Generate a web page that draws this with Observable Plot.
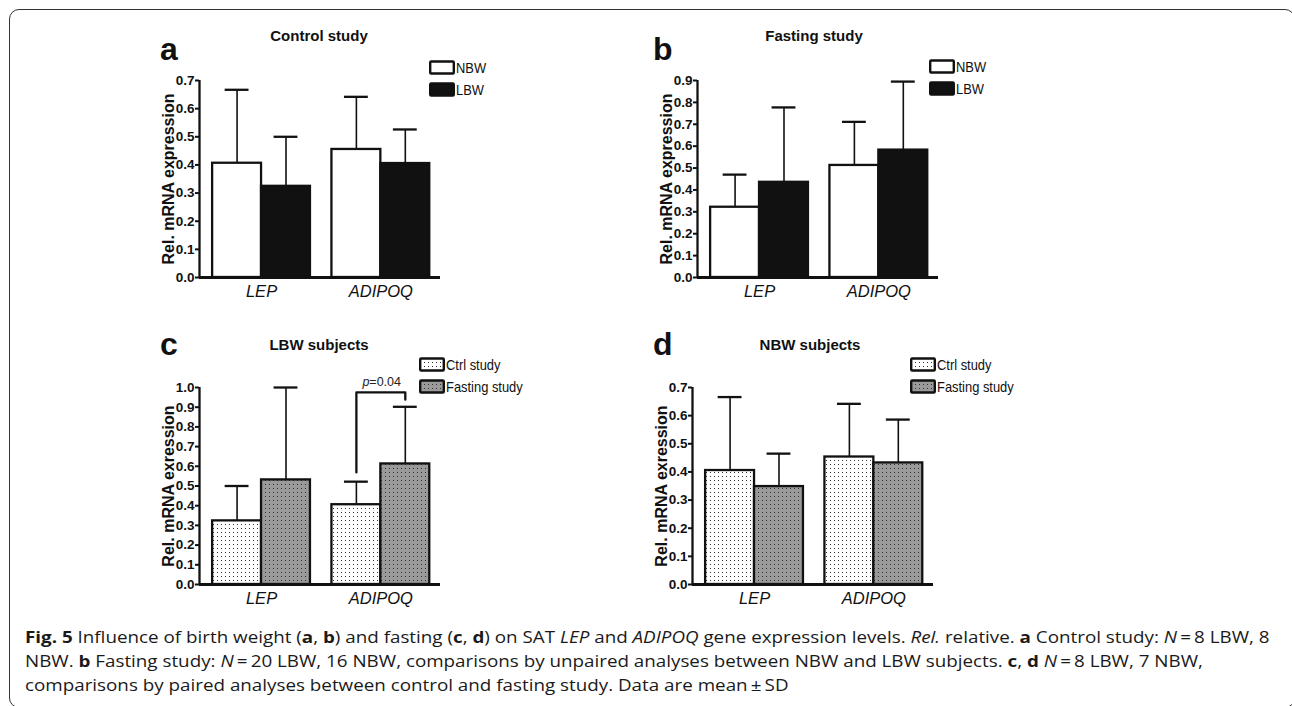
<!DOCTYPE html>
<html><head><meta charset="utf-8">
<script src="https://cdn.jsdelivr.net/npm/d3@7"></script>
<script src="https://cdn.jsdelivr.net/npm/@observablehq/plot@0.6"></script>
<style>
html,body{margin:0;padding:0;background:#fff;}
body{width:1292px;height:706px;position:relative;overflow:hidden;font-family:"Liberation Sans",Arial,sans-serif;color:#111;}
.frame{position:absolute;left:9px;top:9px;width:1284px;height:697px;border:1.5px solid #333;border-radius:10px;}
.letter{position:absolute;font-weight:bold;font-size:32px;line-height:32px;}
.title{position:absolute;font-weight:bold;font-size:15px;line-height:15px;transform:translate(-50%,-50%);white-space:nowrap;}
.legend{position:absolute;font-family:"Liberation Sans",Arial,sans-serif;font-size:15px;white-space:nowrap;}
.legend .row{display:flex;align-items:center;height:22.5px;}
.legend svg{display:block;margin-right:1px;}
.legend span{display:inline-block;transform:scaleX(0.86);transform-origin:0 50%;}
.caption{position:absolute;left:25px;top:625px;font-family:"Open Sans",sans-serif;font-size:15.5px;line-height:24px;color:#1a1a1a;white-space:nowrap;transform:scaleX(1.213);transform-origin:0 0;}
.panel{position:absolute;}
</style></head><body>
<div class="frame"></div>
<div id="root"></div>
<div class="caption" id="caption"></div>
<script>
// ---------- data ----------
const genes = ["LEP", "ADIPOQ"];
const birthGroups = ["NBW", "LBW"];
const studyGroups = ["Ctrl study", "Fasting study"];
// a: Control study (mean, SD)
const controlNBWMean = [0.406, 0.455], controlNBWSD = [0.261, 0.187];
const controlLBWMean = [0.324, 0.405], controlLBWSD = [0.176, 0.121];
// b: Fasting study
const fastingNBWMean = [0.321, 0.512], fastingNBWSD = [0.149, 0.199];
const fastingLBWMean = [0.435, 0.582], fastingLBWSD = [0.342, 0.313];
// c: LBW subjects
const lbwCtrlMean = [0.323, 0.405], lbwCtrlSD = [0.177, 0.117];
const lbwFastMean = [0.531, 0.612], lbwFastSD = [0.469, 0.290];
// d: NBW subjects
const nbwCtrlMean = [0.405, 0.453], nbwCtrlSD = [0.261, 0.189];
const nbwFastMean = [0.348, 0.432], nbwFastSD = [0.117, 0.154];
// tick values
const yTicks07 = [0, 0.1, 0.2, 0.3, 0.4, 0.5, 0.6, 0.7];
const yTicks09 = [0, 0.1, 0.2, 0.3, 0.4, 0.5, 0.6, 0.7, 0.8, 0.9];
const yTicks10 = [0, 0.1, 0.2, 0.3, 0.4, 0.5, 0.6, 0.7, 0.8, 0.9, 1.0];
// significance bracket in panel c
const bracketGene = "ADIPOQ", bracketTop = 0.975, bracketLeftEnd = 0.569, bracketRightEnd = 0.938, bracketLabelY = 1.027;
const bracketP = "p", bracketValue = "=0.04";

// ---------- layout constants ----------
const X_DOMAIN = [-0.52, 1.5];
const BAR_W = 0.41, CAP_HALF = 0.1;
const SANS = '"Liberation Sans",Arial,sans-serif';

function makeRows(means, sds) {
  return [0, 1].flatMap(gi => genes.map((gene, ii) => ({
    gene, gi, mean: means[gi][ii], sd: sds[gi][ii],
    x1: ii + (gi - 1) * BAR_W, x2: ii + gi * BAR_W, xc: ii + (gi - 0.5) * BAR_W
  })));
}

function panel({means, sds, fills, yTicks, yLabel, extra = []}) {
  const rows = makeRows(means, sds);
  const yMax = yTicks[yTicks.length - 1];
  const svg = Plot.plot({
    width: 350, height: 257, marginLeft: 99, marginRight: 10, marginTop: 20, marginBottom: 40,
    style: {fontFamily: SANS, fontSize: "13.5px", background: "transparent", overflow: "visible", color: "#111"},
    x: {domain: X_DOMAIN, axis: null},
    y: {domain: [0, yMax], axis: null},
    marks: [
      Plot.ruleX(rows, {x: "xc", y1: "mean", y2: d => d.mean + d.sd, stroke: "#111", strokeWidth: 1.6}),
      Plot.ruleY(rows, {y: d => d.mean + d.sd, x1: d => d.xc - CAP_HALF, x2: d => d.xc + CAP_HALF, stroke: "#111", strokeWidth: 2.3}),
      Plot.rectY(rows, {x1: "x1", x2: "x2", y1: 0, y2: "mean", fill: d => fills[d.gi], stroke: "#111", strokeWidth: 2.3}),
      ...extra,
      Plot.ruleY([0], {stroke: "#111", strokeWidth: 2.8}),
      Plot.ruleX([X_DOMAIN[0]], {y1: 0, y2: yMax, stroke: "#111", strokeWidth: 2.3}),
      Plot.axisY({ticks: yTicks, tickFormat: d3.format(".1f"), tickSize: 4, tickPadding: 1, strokeWidth: 2, fontSize: 13.5, fontWeight: "bold", fill: "#111", label: null, ariaLabel: "y-axis"}),
      Plot.axisX({ticks: [0, 1], tickFormat: i => genes[i], tickSize: 0, tickPadding: 8, fontSize: 16.5, fontStyle: "italic", fill: "#111", label: null}),
      Plot.text([yLabel], {frameAnchor: "left", textAnchor: "middle", rotate: -90, dx: -31, fontSize: 16, fontWeight: "bold", fill: "#111"})
    ]
  });
  // make sure tick label sizes are applied
  d3.select(svg).selectAll('g[aria-label="y-axis tick label"]').attr("font-size", 13.5).attr("font-weight", "bold");
  return svg;
}

function addDefs(svg) {
  const defs = d3.select(svg).insert("defs", ":first-child");
  const p1 = defs.append("pattern").attr("id", "dotsLight").attr("patternUnits", "userSpaceOnUse").attr("width", 4).attr("height", 4);
  p1.append("rect").attr("width", 4).attr("height", 4).attr("fill", "#fff");
  p1.append("rect").attr("x", 1).attr("y", 1).attr("width", 1).attr("height", 1).attr("fill", "#333");
  const p2 = defs.append("pattern").attr("id", "dotsGray").attr("patternUnits", "userSpaceOnUse").attr("width", 4).attr("height", 4);
  p2.append("rect").attr("width", 4).attr("height", 4).attr("fill", "#9a9a9a");
  p2.append("rect").attr("x", 1).attr("y", 1).attr("width", 1).attr("height", 1).attr("fill", "#333");
}

const root = document.getElementById("root");
function place(node, left, top) {
  const d = document.createElement("div");
  d.className = "panel"; d.style.left = left + "px"; d.style.top = top + "px";
  d.appendChild(node); root.appendChild(d); return d;
}
function html(cls, text, left, top) {
  const d = document.createElement("div");
  d.className = cls; d.textContent = text; d.style.left = left + "px"; d.style.top = top + "px";
  root.appendChild(d);
}
function legend(labels, fills, left, top) {
  const d = document.createElement("div");
  d.className = "legend"; d.style.left = left + "px"; d.style.top = top + "px";
  labels.forEach((lab, i) => {
    const r = document.createElement("div"); r.className = "row";
    r.innerHTML = `<svg width="26" height="15"><rect x="1.2" y="1.5" width="23.6" height="12" rx="1" fill="${fills[i]}" stroke="#111" stroke-width="2.4"/></svg><span>${lab}</span>`;
    d.appendChild(r);
  });
  root.appendChild(d);
}

const fillsBirth = ["#fff", "#111"];
const fillsStudy = ["url(#dotsLight)", "url(#dotsGray)"];

const svgA = panel({means: [controlNBWMean, controlLBWMean], sds: [controlNBWSD, controlLBWSD], fills: fillsBirth, yTicks: yTicks07, yLabel: "Rel. mRNA expression"});
const svgB = panel({means: [fastingNBWMean, fastingLBWMean], sds: [fastingNBWSD, fastingLBWSD], fills: fillsBirth, yTicks: yTicks09, yLabel: "Rel. mRNA expression"});

const bi = genes.indexOf(bracketGene);
const bxL = bi - 0.5 * BAR_W, bxR = bi + 0.5 * BAR_W;
const bracketMarks = [
  Plot.line([[bxL, bracketLeftEnd], [bxL, bracketTop], [bxR, bracketTop], [bxR, bracketRightEnd]], {stroke: "#111", strokeWidth: 2.3}),
  Plot.text([bracketP], {x: bi, y: bracketLabelY, dx: -11.5, textAnchor: "end", fontSize: 12.5, fontStyle: "italic", fill: "#222"}),
  Plot.text([bracketValue], {x: bi, y: bracketLabelY, dx: -11.5, textAnchor: "start", fontSize: 12.5, fill: "#222"})
];
const svgC = panel({means: [lbwCtrlMean, lbwFastMean], sds: [lbwCtrlSD, lbwFastSD], fills: fillsStudy, yTicks: yTicks10, yLabel: "Rel. mRNA exression", extra: bracketMarks});
const svgD = panel({means: [nbwCtrlMean, nbwFastMean], sds: [nbwCtrlSD, nbwFastSD], fills: fillsStudy, yTicks: yTicks07, yLabel: "Rel. mRNA exression"});
addDefs(svgC);

place(svgA, 100, 60);
place(svgB, 598, 60);
place(svgC, 100, 367);
place(svgD, 593, 367);

html("letter", "a", 160, 33);
html("letter", "b", 653, 33);
html("letter", "c", 160, 328);
html("letter", "d", 653, 328);
html("title", "Control study", 319, 35);
html("title", "Fasting study", 814, 35);
html("title", "LBW subjects", 319, 344);
html("title", "NBW subjects", 810, 344);

legend(birthGroups, fillsBirth, 429, 56);
legend(birthGroups, fillsBirth, 929, 55);
legend(studyGroups, fillsStudy, 419, 353);
legend(studyGroups, fillsStudy, 910, 353);

document.getElementById("caption").innerHTML =
  '<b>Fig. 5</b> Influence of birth weight (<b>a</b>, <b>b</b>) and fasting (<b>c</b>, <b>d</b>) on SAT <i>LEP</i> and <i>ADIPOQ</i> gene expression levels. <i>Rel.</i> relative. <b>a</b> Control study: <i>N</i>\u2009=\u20098 LBW, 8<br>' +
  'NBW. <b>b</b> Fasting study: <i>N</i>\u2009=\u200920 LBW, 16 NBW, comparisons by unpaired analyses between NBW and LBW subjects. <b>c</b>, <b>d</b> <i>N</i>\u2009=\u20098 LBW, 7 NBW,<br>' +
  'comparisons by paired analyses between control and fasting study. Data are mean\u2009±\u2009SD';
</script>
</body></html>
